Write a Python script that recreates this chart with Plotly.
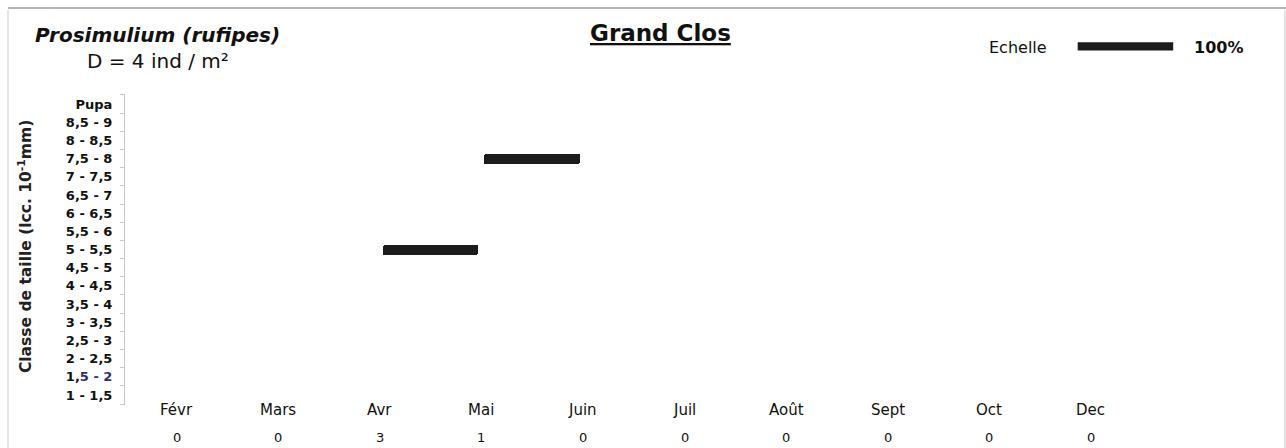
import plotly.graph_objects as go

# ---------------- data ----------------
size_classes = ["1 - 1,5", "1,5 - 2", "2 - 2,5", "2,5 - 3", "3 - 3,5", "3,5 - 4",
                "4 - 4,5", "4,5 - 5", "5 - 5,5", "5,5 - 6", "6 - 6,5", "6,5 - 7",
                "7 - 7,5", "7,5 - 8", "8 - 8,5", "8,5 - 9", "Pupa"]
months = ["Févr", "Mars", "Avr", "Mai", "Juin", "Juil", "Août", "Sept", "Oct", "Dec"]
counts = [0, 0, 3, 1, 0, 0, 0, 0, 0, 0]

# composition of each sample (percentage of individuals in a size class)
bar_month = ["Avr", "Mai"]
bar_class = ["5 - 5,5", "7,5 - 8"]
bar_pct = [100, 100]

scale_pct = 100
species = "Prosimulium (rufipes)"
density = "D = 4 ind / m²"
site = "Grand Clos"

# ---------------- layout helpers ----------------
UNIT = 0.94          # month units covered by 100 %
FONT = "DejaVu Sans"
DARK = "#1c1c1c"

month_idx = {m: i for i, m in enumerate(months)}
class_idx = {c: i for i, c in enumerate(size_classes)}

widths = [p / 100 * UNIT for p in bar_pct]
centers = [month_idx[m] + 0.5 for m in bar_month]
bases = [c - w / 2 for c, w in zip(centers, widths)]

fig = go.Figure()
fig.add_trace(go.Bar(
    orientation="h",
    y=[class_idx[c] for c in bar_class],
    x=widths,
    base=bases,
    width=0.55,
    marker=dict(color=DARK, line=dict(width=0), cornerradius=2),
    showlegend=False,
    hoverinfo="skip",
))

ticktext = []
for c in size_classes:
    if c == "1,5 - 2":
        ticktext.append("1,<span style='color:#2e2e72'>5 - 2</span>")
    else:
        ticktext.append(c)

annotations = []
# month names and counts below the plot
for m, n in zip(months, counts):
    annotations.append(dict(x=month_idx[m], xref="x", y=-0.016, yref="paper",
                            text=m, showarrow=False, xanchor="center", yanchor="middle",
                            font=dict(family=FONT, size=15, color="#111")))
    annotations.append(dict(x=month_idx[m], xref="x", y=-0.103, yref="paper",
                            text=str(n), showarrow=False, xanchor="center", yanchor="middle",
                            font=dict(family=FONT, size=13, color="#111")))

annotations += [
    dict(x=-0.0818, y=1.190, xref="paper", yref="paper", xanchor="left", yanchor="middle",
         text="<b><i>" + species + "</i></b>", showarrow=False,
         font=dict(family=FONT, size=20, color="#111")),
    dict(x=-0.0356, y=1.106, xref="paper", yref="paper", xanchor="left", yanchor="middle",
         text=density, showarrow=False, font=dict(family=FONT, size=20, color="#111")),
    dict(x=0.4764, y=1.196, xref="paper", yref="paper", xanchor="center", yanchor="middle",
         text="<b><u>" + site + "</u></b>", showarrow=False,
         font=dict(family=FONT, size=23, color="#111")),
    dict(x=0.8213, y=1.151, xref="paper", yref="paper", xanchor="right", yanchor="middle",
         text="Echelle", showarrow=False, font=dict(family=FONT, size=16, color="#111")),
    dict(x=0.9484, y=1.151, xref="paper", yref="paper", xanchor="left", yanchor="middle",
         text="<b>%d%%</b>" % scale_pct, showarrow=False,
         font=dict(family=FONT, size=16, color="#111")),
    dict(x=-0.0889, y=0.511, xref="paper", yref="paper", xanchor="center", yanchor="middle",
         text="<b>Classe de taille (lcc. 10<sup>-1</sup>mm)</b>", textangle=-90, showarrow=False,
         font=dict(family=FONT, size=15.5, color="#222")),
]

scale_x0 = 8.87
shapes = [
    # scale bar (100 %)
    dict(type="rect", xref="x", yref="paper", x0=scale_x0, x1=scale_x0 + scale_pct / 100 * UNIT,
         y0=1.140, y1=1.166, fillcolor=DARK, line=dict(width=0)),
    # frame of the scanned sheet
    dict(type="line", xref="paper", yref="paper", x0=-0.104, x1=1.035, y0=1.2765, y1=1.2765,
         line=dict(color="#9c9c9c", width=1.5)),
    dict(type="line", xref="paper", yref="paper", x0=-0.104, x1=-0.104, y0=1.27, y1=-0.16,
         line=dict(color="#dcdcdc", width=1.5)),
    dict(type="line", xref="paper", yref="paper", x0=1.031, x1=1.031, y0=1.27, y1=-0.16,
         line=dict(color="#dcdcdc", width=1.5)),
]

fig.update_layout(
    width=1286, height=448,
    margin=dict(l=125, r=36, t=94, b=43),
    paper_bgcolor="white", plot_bgcolor="white",
    annotations=annotations,
    shapes=shapes,
    bargap=0,
    xaxis=dict(range=[-0.507, 10.566], showgrid=False, zeroline=False, showline=False,
               showticklabels=False, ticks=""),
    yaxis=dict(range=[-0.55, 16.55], showgrid=False, zeroline=False,
               showline=True, linecolor="#c8c8c8", linewidth=1,
               tickmode="array", tickvals=list(range(len(size_classes))), ticktext=ticktext,
               ticks="", ticklabelstandoff=9,
               tickfont=dict(family=FONT, size=13, color="#111", weight="bold"),
               minor=dict(ticks="outside", ticklen=4, tickcolor="#c8c8c8", tick0=-0.5, dtick=1)),
)

fig.write_html("out.html",
               config={"displayModeBar": False},
               post_script="document.body.style.margin='0px';document.body.style.overflow='hidden';")
